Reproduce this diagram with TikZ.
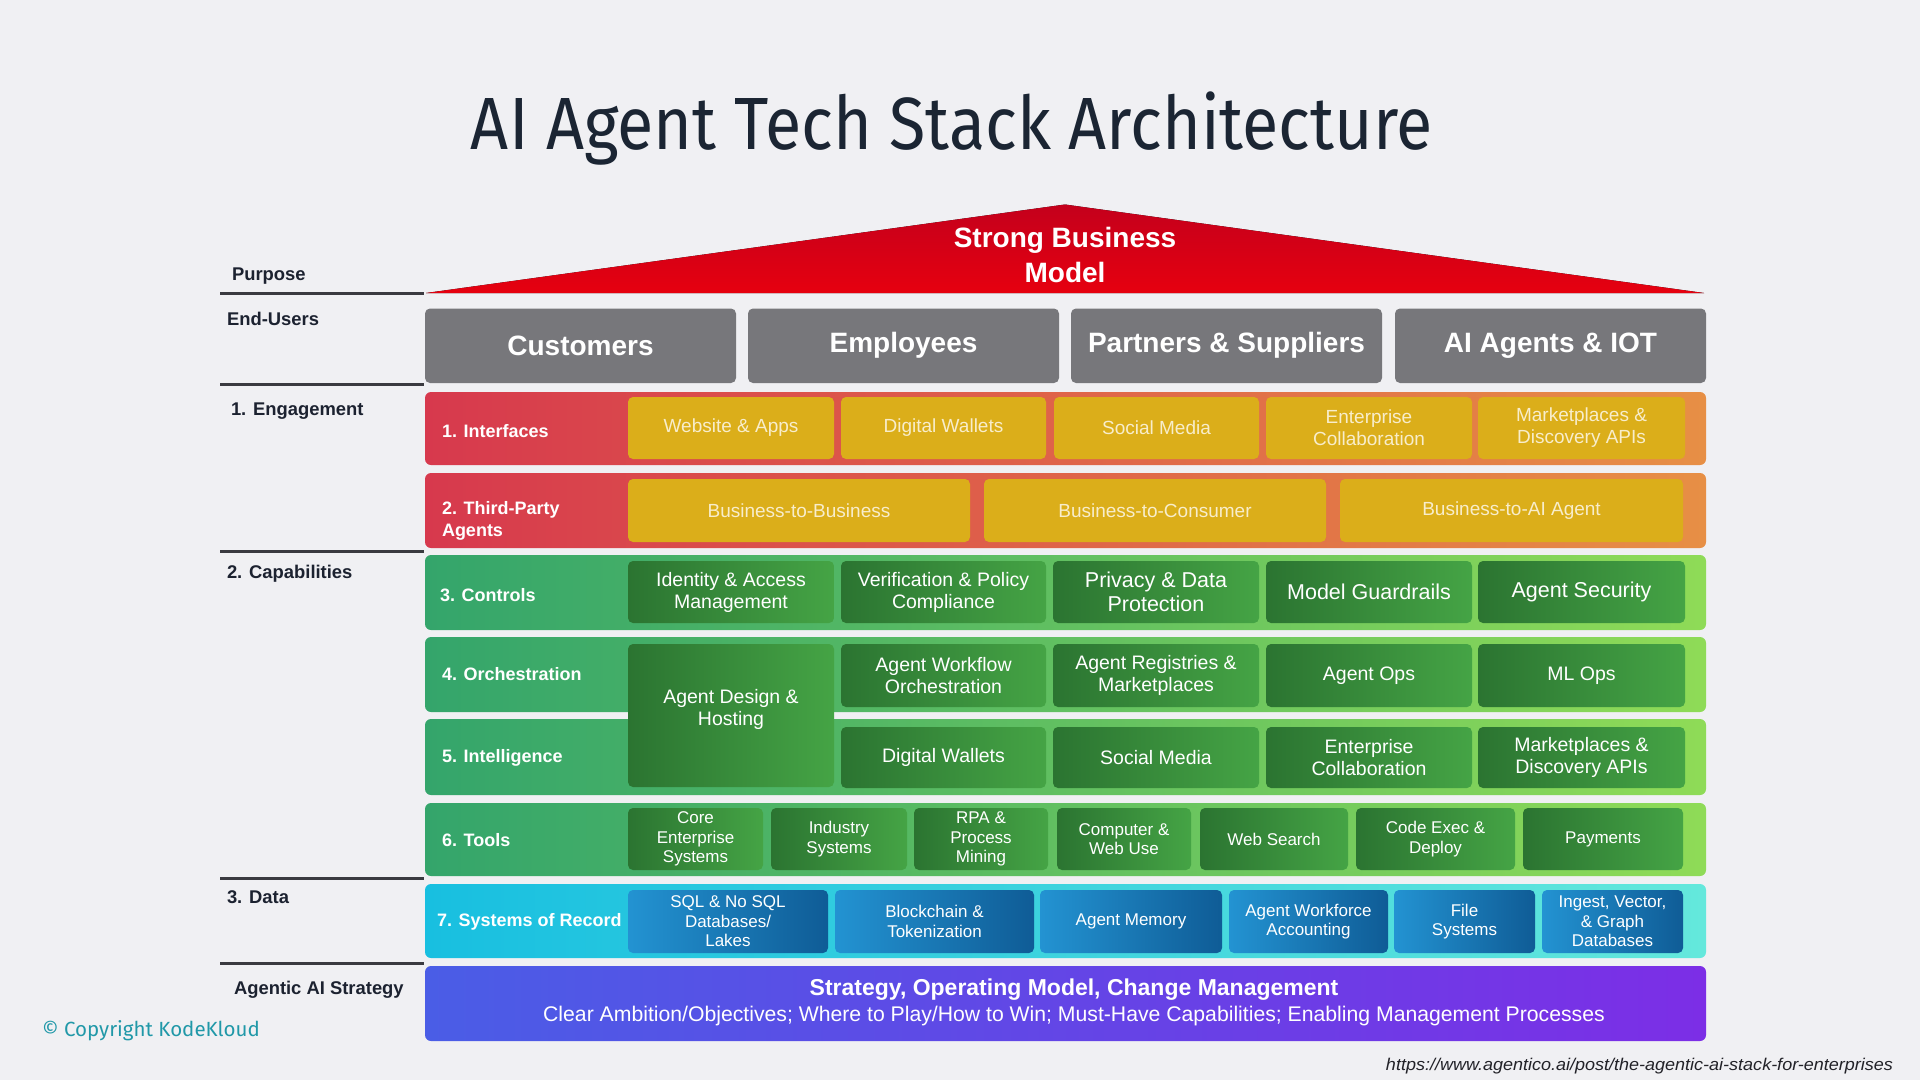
\documentclass[tikz,border=0pt]{standalone}
\usepackage{fontspec}
\setmainfont{Liberation Sans}
\newfontfamily\titlefont{Fira Sans}
\definecolor{bg}{HTML}{F0F0F3}
\definecolor{ink}{HTML}{1C2230}
\definecolor{lineC}{HTML}{3A3A40}
\definecolor{usergray}{HTML}{77777B}
\definecolor{roofT}{HTML}{C4001C}
\definecolor{roofB}{HTML}{E6000F}
\definecolor{redL}{HTML}{D7394D}
\definecolor{redR}{HTML}{E78F45}
\definecolor{gold}{HTML}{DBAE1A}
\definecolor{cream}{HTML}{F8EDCB}
\definecolor{grnL}{HTML}{34A56B}
\definecolor{grnR}{HTML}{8FDB57}
\definecolor{dgL}{HTML}{2B7431}
\definecolor{dgR}{HTML}{45A445}
\definecolor{cyL}{HTML}{18BFE0}
\definecolor{cyR}{HTML}{64E8DC}
\definecolor{blL}{HTML}{2393D2}
\definecolor{blR}{HTML}{0F5C96}
\definecolor{stL}{HTML}{4A5DE6}
\definecolor{stR}{HTML}{7C2EE6}
\definecolor{teal}{HTML}{2098A8}
\definecolor{titleC}{HTML}{1B2533}
\definecolor{urlC}{HTML}{222228}
\newcommand\fsz[2]{\fontsize{#1}{#2}\selectfont}
\newcommand\mkbox[7]{%
  \pgfmathsetmacro\bxw{#5-#3}%
  \pgfmathsetmacro\bxh{#6-#4}%
  \pgfmathsetmacro\bxx{(#3+#5)/2}%
  \pgfmathsetmacro\bxy{(#4+#6)/2}%
  \node[#1, minimum width=\bxw pt, minimum height=\bxh pt] (#2) at (\bxx,\bxy) {#7};}
\tikzset{
  every node/.style={inner sep=0pt, outer sep=0pt},
  rowbox/.style={rounded corners=6pt},
  userbox/.style={fill=usergray, rounded corners=5pt, text=white, font=\bfseries\fsz{28}{34}},
  redrow/.style={rowbox, left color=redL, right color=redR},
  greenrow/.style={rowbox, left color=grnL, right color=grnR},
  cyanrow/.style={rowbox, left color=cyL, right color=cyR},
  stratrow/.style={rowbox, left color=stL, right color=stR},
  golditem/.style={fill=gold, rounded corners=5pt, text=cream, align=center, font=\fsz{19}{22}},
  greenitem/.style={left color=dgL, right color=dgR, rounded corners=5pt, text=white, align=center, font=\fsz{19.5}{22}},
  biggreen/.style={greenitem, font=\fsz{21.5}{24}},
  toolitem/.style={greenitem, font=\fsz{17}{19.5}},
  blueitem/.style={left color=blL, right color=blR, rounded corners=5pt, text=white, align=center, font=\fsz{17}{19.5}},
  rowlabel/.style={anchor=west, text=white, font=\bfseries\fsz{18}{22}, align=left},
  sidelabel/.style={anchor=west, text=ink, font=\bfseries\fsz{18.4}{22}},
  sepline/.style={draw=lineC, line width=3pt},
}
\begin{document}
\begin{tikzpicture}[x=1pt, y=-1pt]
\useasboundingbox (0,0) rectangle (1920,1080);
\fill[bg] (0,0) rectangle (1920,1080);

% title
\node[anchor=base, text=titleC] (title) at (952,149) {\resizebox{962pt}{\height}{\titlefont\fsz{74}{80}AI Agent Tech Stack Architecture}};

% roof
\fill[top color=roofT, bottom color=roofB] (1065,204.5) -- (1704,293) -- (426,293) -- cycle;
\node[text=white, align=center, font=\bfseries\fsz{28}{34.5}] (roof) at (1065,255) {Strong Business\\Model};

% side labels and rules
\node[sidelabel] (lpurpose) at (232,276.5) {Purpose};
\node[sidelabel] (lusers) at (227,319) {End-Users};
\node[sidelabel] (lengage) at (231,411.5) {1. Engagement};
\node[sidelabel] (lcap) at (227,573.5) {2. Capabilities};
\node[sidelabel] (ldata) at (227,897) {3. Data};
\node[sidelabel] (lstrat) at (234,989.5) {Agentic AI Strategy};
\draw[sepline] (220,293) -- (424,293);
\draw[sepline] (220,384.5) -- (424,384.5);
\draw[sepline] (220,551) -- (424,551);
\draw[sepline] (220,878.5) -- (424,878.5);
\draw[sepline] (220,963) -- (424,963);

% end users
\mkbox{userbox}{u1}{425}{308.5}{736}{383}{Customers}
\mkbox{userbox}{u2}{748}{308.5}{1059}{383}{Employees}
\mkbox{userbox}{u3}{1071}{308.5}{1382}{383}{Partners \& Suppliers}
\mkbox{userbox}{u4}{1395}{308.5}{1706}{383}{AI Agents \& IOT}

% row 1 interfaces
\mkbox{redrow}{r1}{425}{392}{1706}{465}{}
\node[rowlabel] (r1l) at (442,431.5) {1. Interfaces};
\mkbox{golditem}{i11}{628}{397}{834}{459}{Website \& Apps}
\mkbox{golditem}{i12}{841}{397}{1046}{459}{Digital Wallets}
\mkbox{golditem}{i13}{1054}{397}{1259}{459}{Social Media}
\mkbox{golditem}{i14}{1266}{397}{1472}{459}{Enterprise\\Collaboration}
\mkbox{golditem}{i15}{1478}{397}{1685}{459}{Marketplaces \&\\Discovery APIs}

% row 2 third-party
\mkbox{redrow}{r2}{425}{473}{1706}{548}{}
\node[rowlabel] (r2l) at (442,521) {2. Third-Party\\Agents};
\mkbox{golditem}{i21}{628}{479}{970}{542}{Business-to-Business}
\mkbox{golditem}{i22}{984}{479}{1326}{542}{Business-to-Consumer}
\mkbox{golditem}{i23}{1340}{479}{1683}{542}{Business-to-AI Agent}

% row 3 controls
\mkbox{greenrow}{r3}{425}{555}{1706}{630}{}
\node[rowlabel] (r3l) at (440,595.5) {3. Controls};
\mkbox{greenitem}{i31}{628}{561}{834}{623}{Identity \& Access\\Management}
\mkbox{greenitem}{i32}{841}{561}{1046}{623}{Verification \& Policy\\Compliance}
\mkbox{biggreen}{i33}{1053}{561}{1259}{623}{Privacy \& Data\\Protection}
\mkbox{biggreen}{i34}{1266}{561}{1472}{623}{Model Guardrails}
\mkbox{biggreen}{i35}{1478}{561}{1685}{623}{Agent Security}

% row 4 orchestration
\mkbox{greenrow}{r4}{425}{637}{1706}{712}{}
\node[rowlabel] (r4l) at (442,674.5) {4. Orchestration};
% row 5 intelligence
\mkbox{greenrow}{r5}{425}{719}{1706}{795}{}
\node[rowlabel] (r5l) at (442,757.5) {5. Intelligence};
\mkbox{greenitem}{i40}{628}{644}{834}{787}{}
\node[text=white, align=center, font=\fsz{19.5}{22}] (i40t) at (731,709) {Agent Design \&\\Hosting};
\mkbox{greenitem}{i42}{841}{644}{1046}{707}{Agent Workflow\\Orchestration}
\mkbox{greenitem}{i43}{1053}{644}{1259}{707}{Agent Registries \&\\Marketplaces}
\mkbox{greenitem}{i44}{1266}{644}{1472}{707}{Agent Ops}
\mkbox{greenitem}{i45}{1478}{644}{1685}{707}{ML Ops}
\mkbox{greenitem}{i52}{841}{727}{1046}{788}{Digital Wallets}
\mkbox{greenitem}{i53}{1053}{727}{1259}{788}{Social Media}
\mkbox{greenitem}{i54}{1266}{727}{1472}{788}{Enterprise\\Collaboration}
\mkbox{greenitem}{i55}{1478}{727}{1685}{788}{Marketplaces \&\\Discovery APIs}

% row 6 tools
\mkbox{greenrow}{r6}{425}{803}{1706}{876}{}
\node[rowlabel] (r6l) at (442,840.5) {6. Tools};
\mkbox{toolitem}{i61}{628}{808}{763}{870}{Core\\Enterprise\\Systems}
\mkbox{toolitem}{i62}{771}{808}{907}{870}{Industry\\Systems}
\mkbox{toolitem}{i63}{914}{808}{1048}{870}{RPA \&\\Process\\Mining}
\mkbox{toolitem}{i64}{1057}{808}{1191}{870}{Computer \&\\Web Use}
\mkbox{toolitem}{i65}{1200}{808}{1348}{870}{Web Search}
\mkbox{toolitem}{i66}{1356}{808}{1515}{870}{Code Exec \&\\Deploy}
\mkbox{toolitem}{i67}{1523}{808}{1683}{870}{Payments}

% row 7 systems of record
\mkbox{cyanrow}{r7}{425}{884}{1706}{958}{}
\node[rowlabel] (r7l) at (437,921.5) {7. Systems of Record};
\mkbox{blueitem}{i71}{628}{890}{828}{953}{SQL \& No SQL\\Databases/\\Lakes}
\mkbox{blueitem}{i72}{835}{890}{1034}{953}{Blockchain \&\\Tokenization}
\mkbox{blueitem}{i73}{1040}{890}{1222}{953}{Agent Memory}
\mkbox{blueitem}{i74}{1229}{890}{1388}{953}{Agent Workforce\\Accounting}
\mkbox{blueitem}{i75}{1394}{890}{1535}{953}{File\\Systems}
\mkbox{blueitem}{i76}{1542}{890}{1683}{953}{Ingest, Vector,\\\& Graph\\Databases}

% row 8 strategy
\mkbox{stratrow}{r8}{425}{966}{1706}{1041}{}
\node[text=white, font=\bfseries\fsz{23}{26}] (s1) at (1074,989.5) {Strategy, Operating Model, Change Management};
\node[text=white, font=\fsz{21.2}{24}] (s2) at (1074,1016) {Clear Ambition/Objectives; Where to Play/How to Win; Must-Have Capabilities; Enabling Management Processes};

% footer
\node[anchor=west, text=teal, font=\titlefont\fsz{20.5}{24}] (copy) at (42,1031) {© Copyright KodeKloud};
\node[anchor=east, text=urlC] (url) at (1893,1066) {\resizebox{507pt}{\height}{\itshape\fsz{17}{20}https://www.agentico.ai/post/the-agentic-ai-stack-for-enterprises}};
\end{tikzpicture}
\end{document}
